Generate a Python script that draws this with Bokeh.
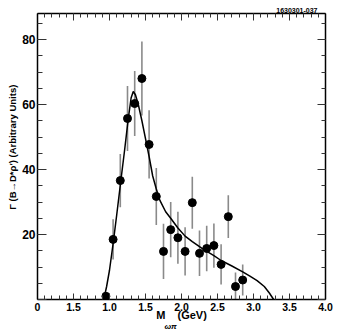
from bokeh.plotting import figure
from bokeh.models import LinearAxis, SingleIntervalTicker, Range1d, Title, PrintfTickFormatter
from bokeh.embed import file_html
from bokeh.resources import INLINE

# measured points
mass = [0.95, 1.05, 1.15, 1.25, 1.35, 1.45, 1.55, 1.65, 1.75, 1.85,
        1.95, 2.05, 2.15, 2.25, 2.35, 2.45, 2.55, 2.65, 2.75, 2.85]
rate = [1.0, 18.5, 36.6, 55.7, 60.3, 68.0, 47.7, 31.7, 14.8, 21.5,
        19.0, 14.8, 29.8, 14.2, 15.7, 16.6, 10.8, 25.5, 4.0, 6.0]
err = [0.8, 6.2, 8.2, 10.0, 10.0, 11.4, 10.5, 8.8, 8.5, 8.5,
       8.0, 7.4, 8.0, 7.0, 7.0, 6.8, 6.2, 6.6, 4.3, 4.8]

# fit curve
fit_x = [0.92, 0.96, 1.0, 1.055, 1.1, 1.16, 1.21, 1.26, 1.3, 1.33, 1.36, 1.4,
         1.45, 1.5, 1.55, 1.6, 1.65, 1.7, 1.78, 1.85, 1.95, 2.05, 2.15, 2.3,
         2.45, 2.55, 2.7, 2.85, 2.95, 3.05, 3.15, 3.22, 3.28]
fit_y = [0.0, 4.0, 9.0, 18.0, 26.0, 37.0, 46.0, 55.5, 62.0, 64.0, 63.0, 60.0,
         55.0, 49.5, 44.0, 38.0, 34.0, 30.5, 27.0, 25.0, 22.0, 19.5, 17.8, 15.5,
         13.5, 12.0, 10.3, 8.5, 7.2, 5.8, 4.0, 2.0, 0.0]

x_ticks_over = {0: "0", 0.5: "1.5"}
y_label = "\u00a0" * 7 + "Γ (B→D*ρ′) (Arbitrary Units)"
x_label = "M\u00a0\u00a0\u00a0\u00a0(GeV)"
x_sub = "ωπ"
tag = "1630301-037"

FONT = "Liberation Sans"

p = figure(width=339, height=332,
           x_range=Range1d(0, 4), y_range=Range1d(0, 88),
           output_backend="svg", toolbar_location=None,
           x_axis_type=None, y_axis_type=None,
           min_border_left=37, min_border_right=14,
           min_border_top=13, min_border_bottom=33)
p.outline_line_color = None
p.background_fill_color = "white"
p.border_fill_color = "white"

# tag at top right
p.title.text = tag
p.title.align = "right"
p.title.offset = 8
p.title.standoff = 1
p.title.text_font = FONT
p.title.text_font_style = "bold"
p.title.text_font_size = "7px"
p.title.text_color = "black"


def style(ax, mt_in, mn_in, fs):
    ax.axis_line_color = "black"
    ax.axis_line_width = 1.5
    ax.major_tick_in = mt_in
    ax.major_tick_out = 0
    ax.minor_tick_in = mn_in
    ax.minor_tick_out = 0
    ax.major_tick_line_color = "#333333"
    ax.minor_tick_line_color = "#333333"
    ax.major_tick_line_width = 1
    ax.minor_tick_line_width = 1
    ax.major_label_text_font = FONT
    ax.major_label_text_font_style = "bold"
    ax.major_label_text_font_size = fs
    ax.major_label_text_color = "black"


xb = LinearAxis(ticker=SingleIntervalTicker(interval=0.5, num_minor_ticks=5),
                formatter=PrintfTickFormatter(format="%.1f"),
                axis_label=x_label)
style(xb, 6, 4, "10.5px")
xb.major_label_overrides = x_ticks_over
xb.major_label_standoff = 3
xb.axis_label_standoff = -5
xb.axis_label_text_font = FONT
xb.axis_label_text_font_style = "bold"
xb.axis_label_text_font_size = "11px"
xb.axis_label_text_color = "black"
p.add_layout(xb, "below")

sub = Title(text=x_sub, align="left", offset=127, standoff=-7,
            text_font=FONT, text_font_style="bold italic",
            text_font_size="8px", text_color="black")
p.add_layout(sub, "below")

xt = LinearAxis(ticker=SingleIntervalTicker(interval=0.5, num_minor_ticks=5))
style(xt, 7, 4, "1px")
xt.major_label_text_color = None
xt.major_label_standoff = 0
p.add_layout(xt, "above")

yl = LinearAxis(ticker=SingleIntervalTicker(interval=20, num_minor_ticks=4),
                axis_label=y_label)
style(yl, 9, 5, "12px")
yl.major_label_overrides = {0: ""}
yl.major_label_standoff = 2
yl.axis_label_standoff = 1
yl.axis_label_text_font = FONT
yl.axis_label_text_font_style = "bold"
yl.axis_label_text_font_size = "9.5px"
yl.axis_label_text_color = "black"
p.add_layout(yl, "left")

yr = LinearAxis(ticker=SingleIntervalTicker(interval=20, num_minor_ticks=4))
style(yr, 8, 4, "1px")
yr.major_label_text_color = None
yr.major_label_standoff = 0
p.add_layout(yr, "right")

# error bars
lo = [r - e for r, e in zip(rate, err)]
hi = [r + e for r, e in zip(rate, err)]
p.segment(x0=mass, y0=lo, x1=mass, y1=hi, line_color="#8a8a8a", line_width=1.6)

# fit curve
p.line(fit_x, fit_y, line_color="black", line_width=1.5)

# points
p.scatter(mass, rate, size=8, fill_color="black", line_color="black")

open("out.html", "w").write(file_html(p, INLINE))
